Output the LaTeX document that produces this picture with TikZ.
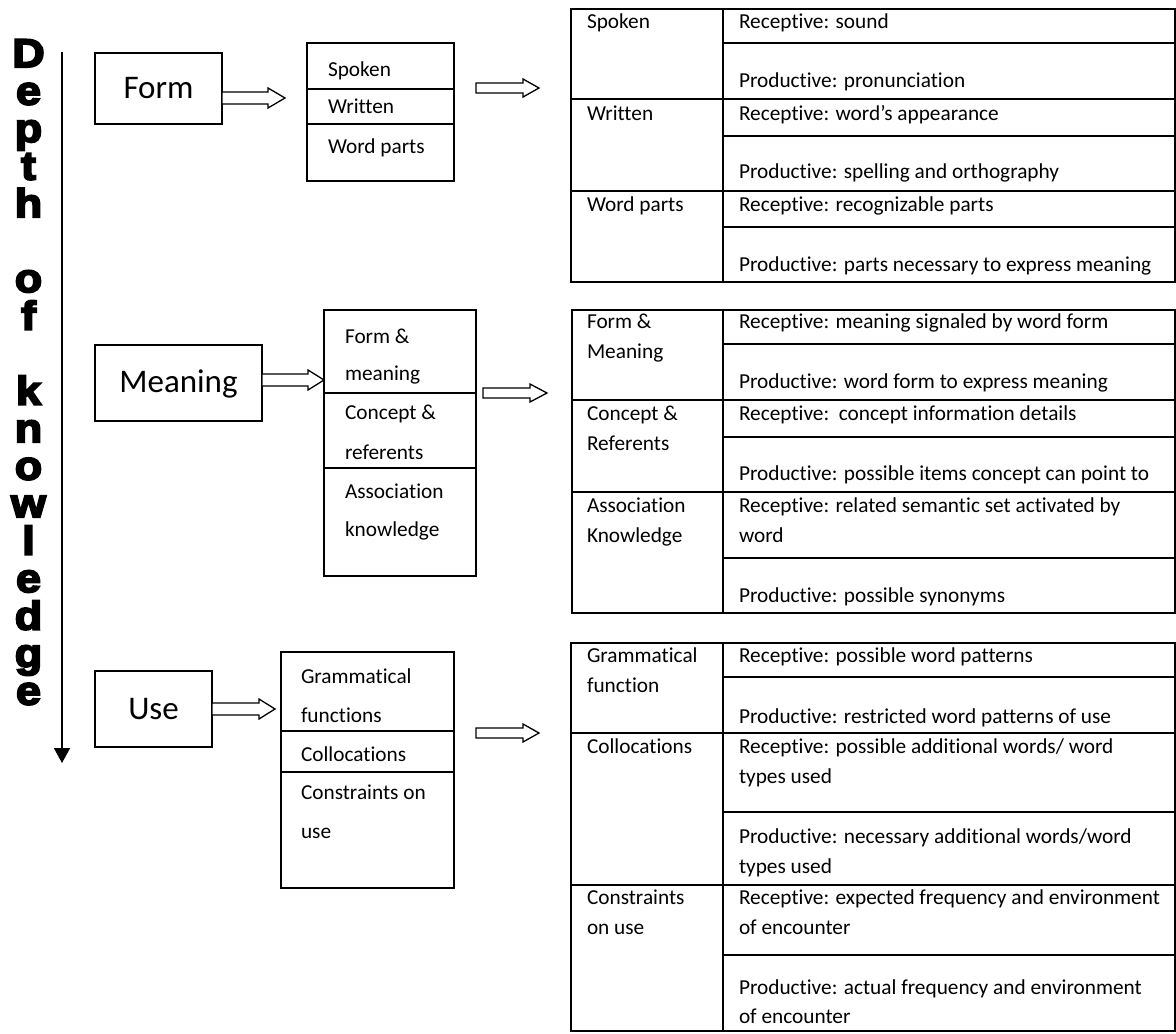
\documentclass[tikz,border=0pt]{standalone}
\usepackage{fontspec}
\setmainfont{Carlito}[Ligatures=NoCommon]
\newfontfamily\heavyfont[BoldFeatures={FakeBold=5,FakeStretch=1.12}]{Liberation Sans}
\usetikzlibrary{calc,arrows.meta}
\newcommand\blockarrow[5]{% tail, tip, shaft half, head half, head length
  \draw[hollow] let \p1=#1, \p2=#2 in
   (\x1,\y1+#3) -- (\x2-#5,\y1+#3) -- (\x2-#5,\y1+#4) -- (\x2,\y1)
   -- (\x2-#5,\y1-#4) -- (\x2-#5,\y1-#3) -- (\x1,\y1-#3) -- cycle;}
\begin{document}
\begin{tikzpicture}[x=1pt,y=-1pt,
  every node/.style={inner sep=0pt,outer sep=0pt},
  mainbox/.style={draw,line width=1.5pt,font=\fontsize{33}{40}\selectfont},
  subbox/.style={draw,line width=1.5pt},
  tablebox/.style={draw,line width=1.8pt},
  rule/.style={line width=1.5pt},
  cell/.style={anchor=base west,font=\fontsize{21.3}{30}\selectfont},
  letter/.style={anchor=base,font=\heavyfont\bfseries\fontsize{40}{40}\selectfont},
  hollow/.style={line width=1.3pt,fill=white,line join=miter},
  axis/.style={line width=1.8pt,-{Triangle[length=15pt,width=16pt]}}]
\useasboundingbox (0,0) rectangle (1176,1034);

% vertical label
\foreach \i/\ch in {0/D,1/e,2/p,3/t,4/h,6/o,7/f,9/k,10/n,11/o,12/w,13/l,14/e,15/d,16/g,17/e}
  \node[letter] (L\i) at (28.5,{67+37.5*\i}) {\ch};
\coordinate (vtop) at (62,52);
\coordinate (vbot) at (62,763);
\draw[axis] (vtop) -- (vbot);

% main boxes
\node[mainbox,minimum width=127pt,minimum height=71pt] (form) at (158.5,88.5) {Form};
\node[mainbox,minimum width=167pt,minimum height=76pt,text depth=3pt] (meaning) at (178.5,383) {Meaning};
\node[mainbox,minimum width=117pt,minimum height=76pt] (use) at (153.5,709) {Use};

% sub boxes
\node[subbox,minimum width=147pt,minimum height=138pt] (s1) at (380.5,112) {};
\draw[rule] (s1.west |- 0,89) -- (s1.east |- 0,89);
\draw[rule] (s1.west |- 0,124) -- (s1.east |- 0,124);
\node[cell] (s1a) at (328,76) {Spoken};
\node[cell] (s1b) at (328,113) {Written};
\node[cell] (s1c) at (328,153) {Word parts};

\node[subbox,minimum width=152pt,minimum height=266pt] (s2) at (400,443) {};
\draw[rule] (s2.west |- 0,393) -- (s2.east |- 0,393);
\draw[rule] (s2.west |- 0,468) -- (s2.east |- 0,468);
\node[cell] (s2a) at (345,343) {Form \&};
\node[cell] (s2b) at (345,380) {meaning};
\node[cell] (s2c) at (345,419) {Concept \&};
\node[cell] (s2d) at (345,459) {referents};
\node[cell] (s2e) at (345,498) {Association};
\node[cell] (s2f) at (345,536) {knowledge};

\node[subbox,minimum width=173pt,minimum height=236pt] (s3) at (367.5,770) {};
\draw[rule] (s3.west |- 0,731) -- (s3.east |- 0,731);
\draw[rule] (s3.west |- 0,772) -- (s3.east |- 0,772);
\node[cell] (s3a) at (301,683) {Grammatical};
\node[cell] (s3b) at (301,722) {functions};
\node[cell] (s3c) at (301,761) {Collocations};
\node[cell] (s3d) at (301,799) {Constraints on};
\node[cell] (s3e) at (301,838) {use};

% arrows
\coordinate (a1t) at (285,98);
\blockarrow{(form.east |- a1t)}{(a1t)}{6pt}{10pt}{17pt}
\coordinate (a2s) at (476,88); \coordinate (a2t) at (539,88);
\blockarrow{(a2s)}{(a2t)}{5pt}{9pt}{16pt}
\coordinate (a3t) at (324,380);
\blockarrow{(meaning.east |- a3t)}{(a3t)}{6pt}{10pt}{16pt}
\coordinate (a4s) at (483,393); \coordinate (a4t) at (547,393);
\blockarrow{(a4s)}{(a4t)}{5pt}{9pt}{17pt}
\coordinate (a5t) at (275,709);
\blockarrow{(use.east |- a5t)}{(a5t)}{6pt}{10pt}{16pt}
\coordinate (a6s) at (476,733); \coordinate (a6t) at (539,733);
\blockarrow{(a6s)}{(a6t)}{5pt}{9pt}{16pt}

% table 1
\node[tablebox,minimum width=604pt,minimum height=273pt] (t1) at (873,145.5) {};
\draw[rule] (723,9) -- (723,282);
\foreach \yy in {99,191} \draw[rule] (t1.west |- 0,\yy) -- (t1.east |- 0,\yy);
\foreach \yy in {43,136,227} \draw[rule] (723,\yy) -- (t1.east |- 0,\yy);
\node[cell] (t1l1) at (587,28) {Spoken};
\node[cell] (t1l2) at (587,120) {Written};
\node[cell] (t1l3) at (587,211) {Word parts};
\node[cell] (t1r1) at (739,28) {Receptive: sound};
\node[cell] (t1r2) at (739,87) {Productive: pronunciation};
\node[cell] (t1r3) at (739,120) {Receptive: word’s appearance};
\node[cell] (t1r4) at (739,178) {Productive: spelling and orthography};
\node[cell] (t1r5) at (739,211) {Receptive: recognizable parts};
\node[cell] (t1r6) at (739,271) {Productive: parts necessary to express meaning};

% table 2
\node[tablebox,minimum width=603pt,minimum height=303pt] (t2) at (873.5,461.5) {};
\draw[rule] (723,310) -- (723,613);
\foreach \yy in {400,492} \draw[rule] (t2.west |- 0,\yy) -- (t2.east |- 0,\yy);
\foreach \yy in {344,437,558} \draw[rule] (723,\yy) -- (t2.east |- 0,\yy);
\node[cell] (t2l1) at (587,328) {Form \&};
\node[cell] (t2l2) at (587,358) {Meaning};
\node[cell] (t2l3) at (587,420) {Concept \&};
\node[cell] (t2l4) at (587,450) {Referents};
\node[cell] (t2l5) at (587,512) {Association};
\node[cell] (t2l6) at (587,542) {Knowledge};
\node[cell] (t2r1) at (739,328) {Receptive: meaning signaled by word form};
\node[cell] (t2r2) at (739,388) {Productive: word form to express meaning};
\node[cell] (t2r3) at (739,420) {Receptive:\ \ concept information details};
\node[cell] (t2r4) at (739,480) {Productive: possible items concept can point to};
\node[cell] (t2r5) at (739,512) {Receptive: related semantic set activated by};
\node[cell] (t2r6) at (739,542) {word};
\node[cell] (t2r7) at (739,602) {Productive: possible synonyms};

% table 3
\node[tablebox,minimum width=604pt,minimum height=388pt] (t3) at (873,837) {};
\draw[rule] (723,643) -- (723,1031);
\foreach \yy in {733,885} \draw[rule] (t3.west |- 0,\yy) -- (t3.east |- 0,\yy);
\foreach \yy in {677,812,955} \draw[rule] (723,\yy) -- (t3.east |- 0,\yy);
\node[cell] (t3l1) at (587,662) {Grammatical};
\node[cell] (t3l2) at (587,692) {function};
\node[cell] (t3l3) at (587,753) {Collocations};
\node[cell] (t3l4) at (587,904) {Constraints};
\node[cell] (t3l5) at (587,934) {on use};
\node[cell] (t3r1) at (739,662) {Receptive: possible word patterns};
\node[cell] (t3r2) at (739,723) {Productive: restricted word patterns of use};
\node[cell] (t3r3) at (739,753) {Receptive: possible additional words/ word};
\node[cell] (t3r4) at (739,783) {types used};
\node[cell] (t3r5) at (739,843) {Productive: necessary additional words/word};
\node[cell] (t3r6) at (739,873) {types used};
\node[cell] (t3r7) at (739,904) {Receptive: expected frequency and environment};
\node[cell] (t3r8) at (739,934) {of encounter};
\node[cell] (t3r9) at (739,994) {Productive: actual frequency and environment};
\node[cell] (t3r10) at (739,1023) {of encounter};
\end{tikzpicture}
\end{document}
